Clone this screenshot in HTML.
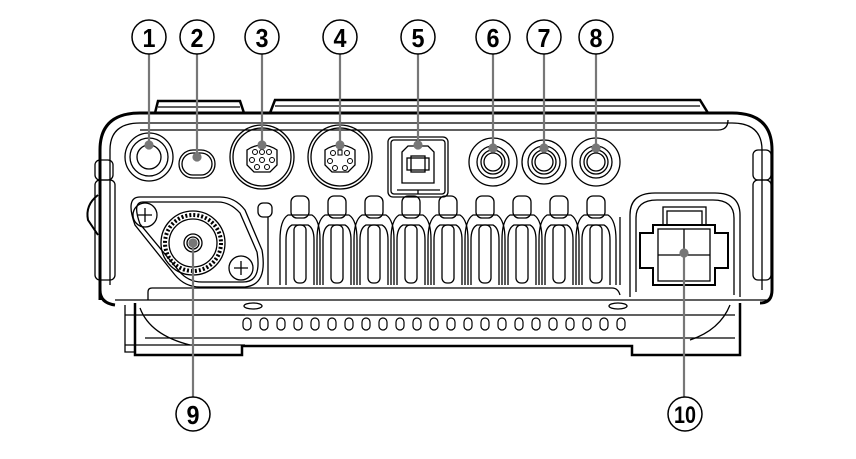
<!DOCTYPE html>
<html><head><meta charset="utf-8"><style>
html,body{margin:0;padding:0;background:#fff;width:856px;height:459px;overflow:hidden}
svg{display:block}
text{font-family:"Liberation Sans",sans-serif;font-weight:bold;font-size:26px;fill:#000}
</style></head><body>
<svg width="856" height="459" viewBox="0 0 856 459" xmlns="http://www.w3.org/2000/svg">
<g fill="none" stroke="#000" stroke-width="1.3">
<!-- top fins -->
<path d="M155 113 L158 101 L240 101 L244 113" stroke-width="2.5"/>
<path d="M270 113 L275 100 L700 100 L708 113" stroke-width="2.5"/>
<path d="M158 107 L240 107 M275 106 L700 106"/>
<!-- main body outline -->
<path d="M100 300 L100 150 Q100 113 140 113 L732 113 Q772 113 772 150 L772 290 Q772 303 760 303" stroke-width="3"/>
<path d="M100 290 Q100 303 115 305" stroke-width="3"/>
<path d="M110 285 L110 150 Q110 123 140 123 L732 123 Q762 123 762 150 L762 290"/>
<path d="M140 130 L718 130 Q728 130 728 120"/>
<!-- side tabs -->
<rect x="95" y="160" width="18" height="20" rx="5"/>
<rect x="95" y="180" width="20" height="100" rx="5"/>
<rect x="753" y="150" width="18" height="30" rx="5"/>
<rect x="753" y="180" width="18" height="100" rx="5"/>
<path d="M98 195 Q85 205 88 220 L98 235" stroke-width="2"/>
<!-- 1 -->
<circle cx="149" cy="157" r="24"/><circle cx="149" cy="157" r="19"/><circle cx="149" cy="157" r="12"/>
<!-- 2 -->
<rect x="179" y="150" width="36" height="28" rx="14"/>
<rect x="182" y="153" width="30" height="22" rx="11"/>
<!-- 3 -->
<circle cx="262" cy="157" r="32"/><circle cx="262" cy="157" r="29"/>
<path d="M247 150 Q262 140 277 150 L277 165 L270 172 L254 172 L247 165 Z"/>
<g stroke-width="1"><circle cx="255" cy="152" r="2.5"/><circle cx="262" cy="152" r="2.5"/><circle cx="269" cy="152" r="2.5"/><circle cx="252" cy="160" r="2.5"/><circle cx="262" cy="160" r="2.5"/><circle cx="272" cy="160" r="2.5"/><circle cx="257" cy="167" r="2.5"/><circle cx="267" cy="167" r="2.5"/></g>
<!-- 4 -->
<circle cx="340" cy="157" r="32"/><circle cx="340" cy="157" r="29"/>
<path d="M325 150 Q340 140 355 150 L355 165 L348 172 L332 172 L325 165 Z"/>
<g stroke-width="1"><circle cx="333" cy="153" r="2.5"/><circle cx="347" cy="153" r="2.5"/><circle cx="330" cy="161" r="2.5"/><circle cx="350" cy="161" r="2.5"/><circle cx="335" cy="168" r="2.5"/><circle cx="345" cy="168" r="2.5"/><rect x="338" y="150" width="4" height="5"/></g>
<!-- 5 USB -->
<rect x="388" y="137" width="60" height="60" rx="5"/>
<rect x="391" y="140" width="54" height="54" rx="3"/>
<path d="M402 152 L408 146 L428 146 L434 152 L434 183 L402 183 Z"/>
<rect x="407" y="158" width="22" height="12"/><rect x="411" y="156" width="14" height="16"/>
<path d="M397 190 L440 190 M418 190 L418 194"/>
<!-- 6 7 8 -->
<g>
<circle cx="493" cy="162" r="24"/><circle cx="493" cy="162" r="16"/><circle cx="493" cy="162" r="12"/><circle cx="493" cy="162" r="9"/>
<circle cx="544" cy="162" r="22"/><circle cx="544" cy="162" r="16"/><circle cx="544" cy="162" r="12"/><circle cx="544" cy="162" r="9"/>
<circle cx="596" cy="162" r="24"/><circle cx="596" cy="162" r="16"/><circle cx="596" cy="162" r="12"/><circle cx="596" cy="162" r="9"/>
</g>
<!-- antenna plate -->
<path d="M140 197 L220 197 Q235 197 245 210 L262 250 Q268 285 245 287 L200 287 Q185 287 175 275 L135 225 Q125 197 140 197 Z"/>
<path d="M143 202 L218 202 Q230 202 240 213 L257 252 Q262 282 243 282 L202 282 Q188 282 179 271 L140 224 Q132 202 143 202 Z"/>
<circle cx="145" cy="215" r="12"/><path d="M145 208 V222 M138 215 H152"/>
<circle cx="241" cy="268" r="12"/><path d="M241 261 V275 M234 268 H248"/>
<circle cx="193" cy="243" r="32"/><circle cx="193" cy="243" r="28" stroke-dasharray="2 2" stroke-width="4"/><circle cx="193" cy="243" r="24"/>
<circle cx="193" cy="243" r="9"/><circle cx="193" cy="243" r="6"/>
<!-- fins block -->
<rect x="258" y="203" width="14" height="14" rx="5"/>
<path d="M268 217 L268 285 M620 217 L620 285"/>
<g id="fin">
<rect x="291" y="196" width="18" height="22" rx="6"/>
<path d="M280 285 L280 240 Q280 220 288 215 L312 215 Q320 220 320 240 L320 285"/>
<path d="M286 285 L286 240 Q286 228 292 225 L308 225 Q314 228 314 240 L314 285"/>
<rect x="294" y="225" width="12" height="58" rx="5"/>
</g>
<use href="#fin" x="37"/><use href="#fin" x="74"/><use href="#fin" x="111"/><use href="#fin" x="148"/><use href="#fin" x="185"/><use href="#fin" x="222"/><use href="#fin" x="259"/><use href="#fin" x="296"/>
<!-- power box -->
<path d="M630 297 L630 215 Q630 193 655 193 L715 193 Q740 193 740 215 L740 297"/>
<path d="M636 292 L636 218 Q636 200 657 200 L713 200 Q734 200 734 218 L734 295"/>
<rect x="663" y="207" width="43" height="18"/><rect x="667" y="211" width="35" height="14"/>
<path d="M640 233 L653 233 L653 225 L715 225 L715 233 L728 233 L728 268 L715 268 L715 285 L653 285 L653 268 L640 268 Z" stroke-width="2"/>
<rect x="658" y="229" width="52" height="52"/>
<path d="M684 229 V281 M658 255 H710"/>
<!-- bottom -->
<path d="M148 300 L148 292 Q148 288 152 288 L612 288 Q618 288 620 295"/>
<path d="M115 300 L770 300"/>
<path d="M125 305 L125 352 L135 352"/>
<path d="M125 315 L245 315 M125 345 L245 345"/>
<path d="M135 303 L135 355 L242 355 L242 346 L632 346 L632 355 L740 355 L740 303" stroke-width="2.5"/>
<path d="M145 315 L735 315 M145 338 L735 338"/>
<path d="M730 305 Q720 330 690 340"/>
<path d="M140 308 Q150 335 190 345"/>
<ellipse cx="253" cy="306" rx="9" ry="3"/><ellipse cx="618" cy="306" rx="9" ry="3"/>
</g>
<g fill="none" stroke="#000" stroke-width="1.2">
<rect x="243" y="318" width="8" height="12" rx="4"/><rect x="260" y="318" width="8" height="12" rx="4"/><rect x="277" y="318" width="8" height="12" rx="4"/><rect x="294" y="318" width="8" height="12" rx="4"/><rect x="311" y="318" width="8" height="12" rx="4"/><rect x="328" y="318" width="8" height="12" rx="4"/><rect x="345" y="318" width="8" height="12" rx="4"/><rect x="362" y="318" width="8" height="12" rx="4"/><rect x="379" y="318" width="8" height="12" rx="4"/><rect x="396" y="318" width="8" height="12" rx="4"/><rect x="413" y="318" width="8" height="12" rx="4"/><rect x="430" y="318" width="8" height="12" rx="4"/><rect x="447" y="318" width="8" height="12" rx="4"/><rect x="464" y="318" width="8" height="12" rx="4"/><rect x="481" y="318" width="8" height="12" rx="4"/><rect x="498" y="318" width="8" height="12" rx="4"/><rect x="515" y="318" width="8" height="12" rx="4"/><rect x="532" y="318" width="8" height="12" rx="4"/><rect x="549" y="318" width="8" height="12" rx="4"/><rect x="566" y="318" width="8" height="12" rx="4"/><rect x="583" y="318" width="8" height="12" rx="4"/><rect x="600" y="318" width="8" height="12" rx="4"/><rect x="617" y="318" width="8" height="12" rx="4"/>
</g>
<!-- leaders -->
<g stroke="#777" stroke-width="2.2" fill="#777">
<line x1="149" y1="54" x2="149" y2="145"/><circle cx="149" cy="145" r="3.5"/>
<line x1="197" y1="54" x2="197" y2="157"/><circle cx="197" cy="157" r="3.5"/>
<line x1="262" y1="54" x2="262" y2="145"/><circle cx="262" cy="145" r="3.5"/>
<line x1="340" y1="54" x2="340" y2="145"/><circle cx="340" cy="145" r="3.5"/>
<line x1="418" y1="54" x2="418" y2="145"/><circle cx="418" cy="145" r="3.5"/>
<line x1="493" y1="54" x2="493" y2="148"/><circle cx="493" cy="148" r="3.5"/>
<line x1="544" y1="54" x2="544" y2="148"/><circle cx="544" cy="148" r="3.5"/>
<line x1="596" y1="54" x2="596" y2="148"/><circle cx="596" cy="148" r="3.5"/>
<line x1="193" y1="243" x2="193" y2="397"/><circle cx="193" cy="243" r="3.5"/>
<line x1="684" y1="253" x2="684" y2="397"/><circle cx="684" cy="253" r="3.5"/>
</g>
<!-- labels -->
<g fill="#fff" stroke="#000" stroke-width="1.5">
<circle cx="149" cy="37" r="17"/><circle cx="197" cy="37" r="17"/><circle cx="262" cy="37" r="17"/><circle cx="340" cy="37" r="17"/><circle cx="418" cy="37" r="17"/><circle cx="493" cy="37" r="17"/><circle cx="544" cy="37" r="17"/><circle cx="596" cy="37" r="17"/>
<circle cx="193" cy="414" r="17"/><circle cx="685" cy="414" r="17"/>
</g>
<g text-anchor="middle">
<text x="149" y="47" textLength="13" lengthAdjust="spacingAndGlyphs">1</text><text x="197" y="47" textLength="13" lengthAdjust="spacingAndGlyphs">2</text><text x="262" y="47" textLength="13" lengthAdjust="spacingAndGlyphs">3</text><text x="340" y="47" textLength="13" lengthAdjust="spacingAndGlyphs">4</text><text x="418" y="47" textLength="13" lengthAdjust="spacingAndGlyphs">5</text><text x="493" y="47" textLength="13" lengthAdjust="spacingAndGlyphs">6</text><text x="544" y="47" textLength="13" lengthAdjust="spacingAndGlyphs">7</text><text x="596" y="47" textLength="13" lengthAdjust="spacingAndGlyphs">8</text>
<text x="193" y="424" textLength="13" lengthAdjust="spacingAndGlyphs">9</text><text x="685" y="423" style="font-size:24px" textLength="22" lengthAdjust="spacingAndGlyphs">10</text>
</g>
</svg>
</body></html>
